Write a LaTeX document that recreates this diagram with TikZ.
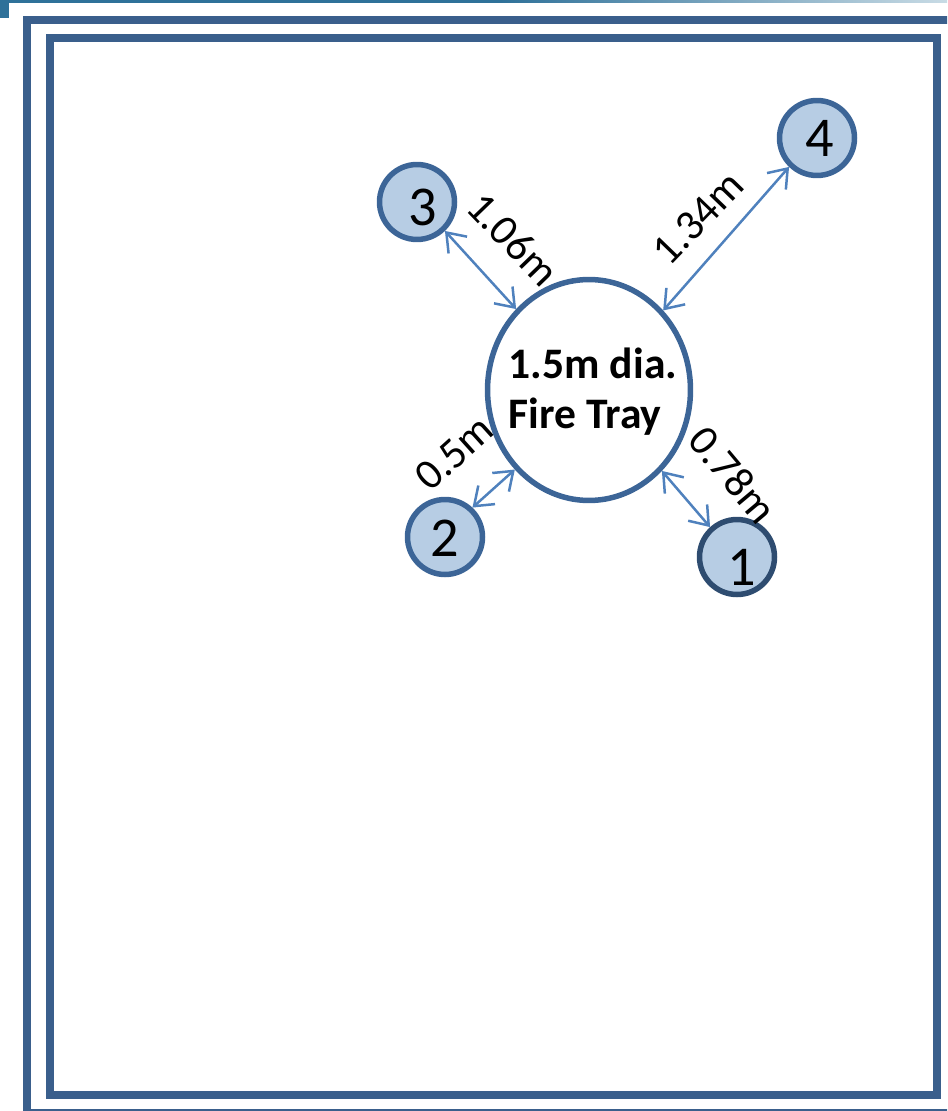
\documentclass[tikz,border=0pt]{standalone}
\usepackage{fontspec}
\setmainfont{Carlito}
\usetikzlibrary{arrows.meta}
\usetikzlibrary{shapes.geometric}
\definecolor{framecol}{HTML}{3A5F8C}
\definecolor{traycol}{HTML}{3C6597}
\definecolor{stationfill}{HTML}{B7CDE4}
\definecolor{dimcol}{HTML}{4F81BD}
\definecolor{barcol}{HTML}{2F7199}
\definecolor{barend}{HTML}{C8DBE5}
\tikzset{frameline/.style = {draw = framecol, line width = 0.16cm, miter limit = 10}}
\tikzset{station/.style = {draw = traycol, fill = stationfill, circle, inner sep = 0, line width = 0.11cm, minimum size = 1.5cm}}
\tikzset{stationnum/.style = {font = \fontsize{32}{33}\selectfont, inner sep = 0}}
\tikzset{tray/.style = {draw = traycol, fill = white, ellipse, inner sep = 0, line width = 0.11cm, minimum width = 4.06cm, minimum height = 4.42cm}}
\tikzset{dimline/.style = {draw = dimcol, line width = 0.05cm, {Straight Barb[length = 0.34cm, width = 0.5cm]}-{Straight Barb[length = 0.34cm, width = 0.5cm]}}}
\tikzset{dimlabel/.style = {font = \fontsize{24.5}{26}\selectfont, inner sep = 0}}

\begin{document}
\begin{tikzpicture}[x = 0.02cm, y = -0.02cm]
      \path [use as bounding box, clip] (0, 0) rectangle (947, 1111);

      % bar along the top
      \fill [barcol] (0, 0) rectangle (500, 3);
      \shade [left color = barcol, right color = barend] (500, 0) rectangle (947, 3);
      \fill [barcol] (0, 0) rectangle (9, 18);

      % double frame
      \draw [frameline] (960, 20) -- (27, 20) -- (27, 1113) -- (960, 1113);
      \draw [frameline] (49.5, 38.5) rectangle (937, 1094.5);

      \node [tray] (tray) at (589, 390) {};
      \node [font = \fontsize{24.8}{28.4}\bfseries\selectfont, align = left, inner sep = 0] (traytext) at (593, 392) {1.5m dia.\\Fire Tray};

      \node [station, draw = framecol!80!black] (st1) at (737, 557) {};
      \node [station] (st2) at (445, 537) {};
      \node [station] (st3) at (417, 202) {};
      \node [station] (st4) at (817, 138) {};
      \node [stationnum] (num1) at (742, 567) {1};
      \node [stationnum] (num2) at (445, 538) {2};
      \node [stationnum] (num3) at (423, 207) {3};
      \node [stationnum] (num4) at (820, 138) {4};

      \draw [dimline] (st1.132) -- (tray.-48);
      \draw [dimline] (st2.47) -- (tray.227);
      \draw [dimline] (st3.-46) -- (tray.132);
      \draw [dimline] (st4.226) -- (tray.47);

      \node [dimlabel, rotate = -50] (len1) at (733, 475) {0.78m};
      \node [dimlabel, rotate = 42] (len2) at (454, 453) {0.5m};
      \node [dimlabel, rotate = -46] (len3) at (513, 239) {1.06m};
      \node [dimlabel, rotate = 46] (len4) at (698, 218) {1.34m};
    \end{tikzpicture}
\end{document}
